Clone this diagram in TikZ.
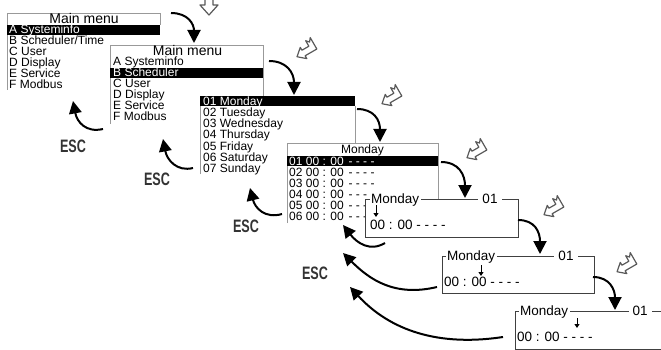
\documentclass[tikz,border=0pt]{standalone}
\usepackage{graphicx}
\usepackage{fontspec}
\setmainfont{Liberation Sans}
\usetikzlibrary{arrows.meta}
\tikzset{
  item/.style={anchor=base west, inner sep=0pt, font=\fontsize{12}{12}\selectfont},
  hitem/.style={item, text=white},
  ttl/.style={anchor=base, inner sep=0pt, font=\fontsize{14}{14}\selectfont},
  ttlsmall/.style={anchor=base, inner sep=0pt, font=\fontsize{12}{12}\selectfont},
  big/.style={anchor=base west, inner sep=0pt, font=\fontsize{13.5}{13.5}\selectfont},
  frametitle/.style={anchor=base west, fill=white, inner xsep=1.5pt, inner ysep=1pt, font=\fontsize{13.5}{13.5}\selectfont},
  framenum/.style={anchor=base, fill=white, inner xsep=4pt, inner ysep=1pt, font=\fontsize{13.5}{13.5}\selectfont},
  lbord/.style={draw=black!40, line width=0.8pt},
  dbord/.style={draw=black!75, line width=0.8pt},
  barfill/.style={fill=black},
  flow/.style={line width=2pt, -{Triangle[length=13pt,width=13pt]}},
  back/.style={line width=2pt, -{Triangle[length=12.5pt,width=12.5pt]}},
  esc/.style={font=\fontsize{18}{18}\selectfont\bfseries, text=black!80, inner sep=0pt},
  keyicon/.style={draw=black!65, line width=1.2pt, fill=white, line join=round},
  smallarrow/.style={line width=1pt, -{Triangle[length=4pt,width=5pt]}},
  enterkey/.pic={\draw[keyicon] (-11.5,0) -- (-4,-6.5) -- (-4,-3.2) -- (4,-3.2) -- (4,-9.5) -- (6.7,-6.5) -- (9.5,-10) -- (9.5,3.2) -- (-4,3.2) -- (-4,6.5) -- cycle;}
}
\begin{document}
\begin{tikzpicture}[x=1pt,y=-1pt]
\useasboundingbox (0,0) rectangle (661,350);

% ---------- panel 1
\draw[lbord] (7,90) -- (7,13) -- (160,13) -- (160,25);
\fill[barfill] (7,25) rectangle (160,35.5);
\node[ttl] (m1t) at (84,23.3) {Main menu};
\node[hitem] (m1a) at (9,34) {A Systeminfo};
\node[item] (m1b) at (9,45) {B Scheduler/Time};
\node[item] (m1c) at (9,56) {C User};
\node[item] (m1d) at (9,67) {D Display};
\node[item] (m1e) at (9,78) {E Service};
\node[item] (m1f) at (9,89) {F Modbus};

% ---------- panel 2
\draw[lbord] (110,124) -- (110,45) -- (263,45) -- (263,96);
\fill[barfill] (110,68) rectangle (263,78.5);
\node[ttl] (m2t) at (187.5,55.3) {Main menu};
\node[item] (m2a) at (113,66) {A Systeminfo};
\node[hitem] (m2b) at (113,77) {B Scheduler};
\node[item] (m2c) at (113,88) {C User};
\node[item] (m2d) at (113,99) {D Display};
\node[item] (m2e) at (113,110) {E Service};
\node[item] (m2f) at (113,121) {F Modbus};

% ---------- panel 3
\draw[lbord] (200,174) -- (200,96);
\draw[lbord] (355,106) -- (355,143);
\fill[barfill] (200,96) rectangle (355,106.5);
\node[hitem] (d1) at (203,105.5) {01 Monday};
\node[item] (d2) at (203,116.65) {02 Tuesday};
\node[item] (d3) at (203,127.8) {03 Wednesday};
\node[item] (d4) at (203,138.95) {04 Thursday};
\node[item] (d5) at (203,150.1) {05 Friday};
\node[item] (d6) at (203,161.25) {06 Saturday};
\node[item] (d7) at (203,172.4) {07 Sunday};

% ---------- panel 4
\draw[lbord] (287,223) -- (287,143) -- (438,143) -- (438,199);
\fill[barfill] (287,155.7) rectangle (438,166);
\node[ttlsmall] (s0) at (362.5,153.3) {Monday};
\node[hitem] (s1) at (289,165) {01 00 : 00\hspace{1.5pt} - - - -};
\node[item] (s2) at (289,176.1) {02 00 : 00\hspace{1.5pt} - - - -};
\node[item] (s3) at (289,187.2) {03 00 : 00\hspace{1.5pt} - - - -};
\node[item] (s4) at (289,198.3) {04 00 : 00\hspace{1.5pt} - - - -};
\node[item] (s5) at (289,209.4) {05 00 : 00\hspace{1.5pt} - - - -};
\node[item] (s6) at (289,220.5) {06 00 : 00\hspace{1.5pt} - - - -};

% ---------- panel 5
\filldraw[fill=white, dbord] (365,199) rectangle (518,237);
\node[frametitle] (p5t) at (369.5,203.5) {Monday};
\node[framenum] (p5n) at (490,203.5) {01};
\coordinate (p5a) at (376,205);
\coordinate (p5b) at (376,217);
\draw[smallarrow] (p5a) -- (p5b);
\node[big] (p5v) at (370,229.3) {00 : 00 - - - -};

% ---------- panel 6
\filldraw[fill=white, dbord] (442,256) rectangle (594,293);
\node[frametitle] (p6t) at (445.5,260.5) {Monday};
\node[framenum] (p6n) at (566,260.5) {01};
\coordinate (p6a) at (481,265);
\coordinate (p6b) at (481,276);
\draw[smallarrow] (p6a) -- (p6b);
\node[big] (p6v) at (444,286.7) {00 : 00 - - - -};

% ---------- panel 7
\filldraw[fill=white, dbord] (515,311) rectangle (675,349);
\node[frametitle] (p7t) at (518.5,315.5) {Monday};
\node[framenum] (p7n) at (640,315.5) {01};
\coordinate (p7a) at (577,318);
\coordinate (p7b) at (577,328);
\draw[smallarrow] (p7a) -- (p7b);
\node[big] (p7v) at (517,341.7) {00 : 00 - - - -};

% ---------- forward arrows
\coordinate (f1s) at (171,13);  \coordinate (f1e) at (194,43);
\coordinate (f2s) at (269,61);  \coordinate (f2e) at (294,95);
\coordinate (f3s) at (357,109); \coordinate (f3e) at (380,142);
\coordinate (f4s) at (441,162); \coordinate (f4e) at (465,198);
\coordinate (f5s) at (518,220); \coordinate (f5e) at (540,254);
\coordinate (f6s) at (593,277); \coordinate (f6e) at (615,310);
\draw[flow] (f1s) .. controls (188,13) and (194,24) .. (f1e);
\draw[flow] (f2s) .. controls (287,61) and (294,73) .. (f2e);
\draw[flow] (f3s) .. controls (374,109) and (380,120) .. (f3e);
\draw[flow] (f4s) .. controls (459,162) and (465,175) .. (f4e);
\draw[flow] (f5s) .. controls (535,220) and (540,232) .. (f5e);
\draw[flow] (f6s) .. controls (610,277) and (615,290) .. (f6e);

% ---------- enter key icons
\draw[keyicon] (205,-3) -- (205,5) -- (200,5) -- (209,15) -- (218,5) -- (213,5) -- (213,-3);
\pic[rotate=30] (k2) at (307,51) {enterkey};
\pic[rotate=30] (k3) at (392,98) {enterkey};
\pic[rotate=30] (k4) at (477,152) {enterkey};
\pic[rotate=30] (k5) at (554,209) {enterkey};
\pic[rotate=30] (k6) at (627,266) {enterkey};

% ---------- ESC arrows
\coordinate (b1s) at (103,129); \coordinate (b1e) at (73,101);
\coordinate (b2s) at (193,168); \coordinate (b2e) at (163,139);
\coordinate (b3s) at (282,214); \coordinate (b3e) at (250,188);
\coordinate (b4s) at (385,243); \coordinate (b4e) at (343,225);
\coordinate (b5s) at (437,287); \coordinate (b5e) at (343,253);
\coordinate (b6s) at (503,337); \coordinate (b6e) at (350,287);
\draw[back] (b1s) .. controls (86,133) and (77,122) .. (b1e);
\draw[back] (b2s) .. controls (177,172) and (167,160) .. (b2e);
\draw[back] (b3s) .. controls (265,219) and (255,208) .. (b3e);
\draw[back] (b4s) .. controls (370,252) and (357,243) .. (b4e);
\draw[back] (b5s) .. controls (395,297) and (370,280) .. (b5e);
\draw[back] (b6s) .. controls (430,348) and (385,325) .. (b6e);

\node[esc] (esc1) at (73,146) {\scalebox{0.7}[1]{ESC}};
\node[esc] (esc2) at (157,179) {\scalebox{0.7}[1]{ESC}};
\node[esc] (esc3) at (246,226) {\scalebox{0.7}[1]{ESC}};
\node[esc] (esc4) at (315,273) {\scalebox{0.7}[1]{ESC}};
\end{tikzpicture}
\end{document}
